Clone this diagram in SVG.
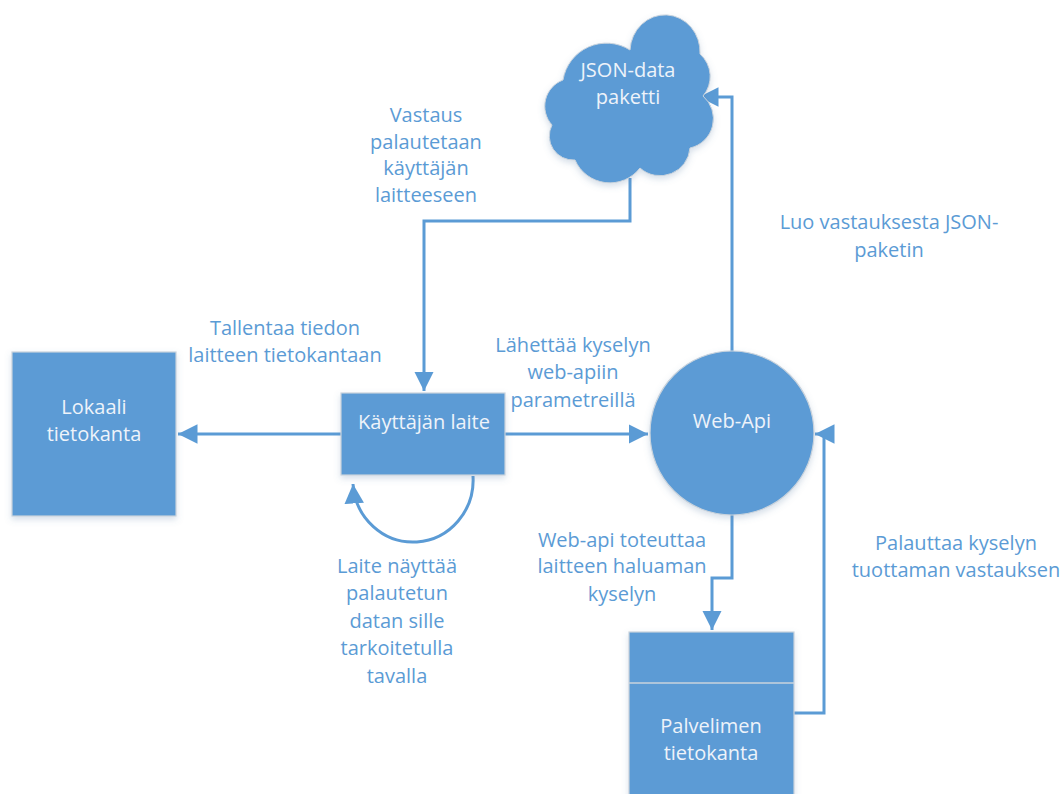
<svg xmlns="http://www.w3.org/2000/svg" width="1064" height="794" viewBox="0 0 1064 794">
<style>
.node{fill:#5B9BD5;stroke:#C9D3DD;stroke-width:1.2}
.nt{font-family:"Open Sans","Noto Sans",sans-serif;font-size:20px;fill:#EEF3FA;text-anchor:middle}
.lbl{font-family:"Open Sans","Noto Sans",sans-serif;font-size:20px;fill:#5B9BD5;text-anchor:middle}
.conn{fill:none;stroke:#5B9BD5;stroke-width:3}
</style>
<defs>
<marker id="ah" viewBox="0 0 10 10" refX="10" refY="5" markerWidth="6.5" markerHeight="6.5" orient="auto" markerUnits="strokeWidth">
<path d="M0,0 L10,5 L0,10 Z" fill="#5B9BD5"/>
</marker>
<filter id="sh" x="-10%" y="-10%" width="120%" height="125%">
<feDropShadow dx="0" dy="3" stdDeviation="3" flood-color="#5B7FA8" flood-opacity="0.25"/>
</filter>
</defs>
<rect width="1064" height="794" fill="#FFFFFF"/>

<g id="connectors">
<path class="conn" d="M630 178 V221 H424 V391" marker-end="url(#ah)"/>
<path class="conn" d="M732 352 V97 H699" marker-end="url(#ah)"/>
<path class="conn" d="M341 434 H178" marker-end="url(#ah)"/>
<path class="conn" d="M505 434 H648" marker-end="url(#ah)"/>
<path class="conn" d="M732 515 V578 H712 V630" marker-end="url(#ah)"/>
<path class="conn" d="M794 713 H824 V434 H815" marker-end="url(#ah)"/>
<path class="conn" d="M473 476 A60 62 0 0 1 353 484" marker-end="url(#ah)"/>
</g>

<g id="json-data">
<path d="M563 80 A44 44 0 0 1 630 50 A34 36 0 0 1 700 54 A30 30 0 0 1 703 96 A30 30 0 0 1 690 148 A30 30 0 0 1 640 168 A38 38 0 0 1 575 160 A24 24 0 0 1 552 125 A28 28 0 0 1 563 80 Z" fill="#5B9BD5" stroke="#C9D3DD" stroke-width="1" filter="url(#sh)"/>
<text class="nt" x="628" y="77">JSON-data</text>
<text class="nt" x="628" y="104">paketti</text>
</g>

<g id="kayttajan-laite">
<rect class="node" x="341" y="393" width="164" height="82" filter="url(#sh)"/>
<text class="nt" x="424" y="429">Käyttäjän laite</text>
</g>

<g id="lokaali">
<rect class="node" x="12" y="352" width="164" height="164" filter="url(#sh)"/>
<text class="nt" x="94" y="414">Lokaali</text>
<text class="nt" x="94" y="441">tietokanta</text>
</g>

<g id="web-api">
<circle class="node" cx="732" cy="433" r="82" filter="url(#sh)"/>
<text class="nt" x="732" y="428">Web-Api</text>
</g>

<g id="palvelimen-tietokanta">
<rect class="node" x="629" y="632" width="165" height="170" filter="url(#sh)"/>
<line x1="629" y1="683" x2="794" y2="683" stroke="#C9D3DD" stroke-width="1.5"/>
<text class="nt" x="711" y="733">Palvelimen</text>
<text class="nt" x="711" y="760">tietokanta</text>
</g>

<g id="labels">
<text class="lbl" x="426" y="122">Vastaus</text>
<text class="lbl" x="426" y="149">palautetaan</text>
<text class="lbl" x="426" y="175">käyttäjän</text>
<text class="lbl" x="426" y="202">laitteeseen</text>
<text class="lbl" x="889" y="229">Luo vastauksesta JSON-</text>
<text class="lbl" x="889" y="257">paketin</text>
<text class="lbl" x="285" y="335">Tallentaa tiedon</text>
<text class="lbl" x="285" y="362">laitteen tietokantaan</text>
<text class="lbl" x="573" y="352">Lähettää kyselyn</text>
<text class="lbl" x="573" y="379">web-apiin</text>
<text class="lbl" x="573" y="407">parametreillä</text>
<text class="lbl" x="622" y="547">Web-api toteuttaa</text>
<text class="lbl" x="622" y="573">laitteen haluaman</text>
<text class="lbl" x="622" y="601">kyselyn</text>
<text class="lbl" x="397" y="573">Laite näyttää</text>
<text class="lbl" x="397" y="600">palautetun</text>
<text class="lbl" x="397" y="628">datan sille</text>
<text class="lbl" x="397" y="655">tarkoitetulla</text>
<text class="lbl" x="397" y="683">tavalla</text>
<text class="lbl" x="956" y="550">Palauttaa kyselyn</text>
<text class="lbl" x="956" y="577">tuottaman vastauksen</text>
</g>
</svg>
